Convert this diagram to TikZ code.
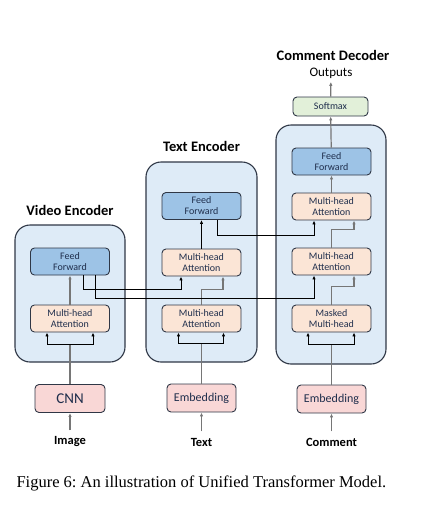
\documentclass[tikz,border=0pt]{standalone}
\usepackage{fontspec}
\setmainfont{Carlito}
\newfontfamily\capfont{Liberation Serif}
\usepackage{xcolor}
\usetikzlibrary{arrows.meta}

\definecolor{boxfill}{HTML}{DEEBF7}
\definecolor{edgecol}{HTML}{2F3746}
\definecolor{fffill}{HTML}{9DC3E6}
\definecolor{attfill}{HTML}{FBE5D6}
\definecolor{embfill}{HTML}{F9D7D6}
\definecolor{smfill}{HTML}{E2F0D9}
\definecolor{inktext}{HTML}{1F2E4C}
\definecolor{flowgray}{HTML}{767676}

\tikzset{
  encbox/.style={draw=edgecol, line width=1.1pt, fill=boxfill, rounded corners=15pt},
  layer/.style={draw=edgecol, line width=0.9pt, rounded corners=4pt, text=inktext,
    minimum width=79pt, minimum height=27pt, align=center, inner sep=1pt,
    font=\fontsize{10}{11}\selectfont},
  ffbox/.style={layer, fill=fffill},
  attbox/.style={layer, fill=attfill},
  embbox/.style={layer, fill=embfill, minimum width=69pt, minimum height=28pt,
    font=\fontsize{12}{14}\selectfont},
  title/.style={font=\fontsize{14.5}{16}\selectfont\bfseries},
  inlabel/.style={font=\fontsize{12.5}{14}\selectfont\bfseries},
  flow/.style={draw=flowgray, line width=1.2pt},
  link/.style={draw=black, line width=0.8pt},
}

\begin{document}
\frenchspacing
\begin{tikzpicture}[x=1pt, y=-1pt, >={Latex[length=4pt,width=3.4pt]}]
  \useasboundingbox (0,0) rectangle (430,507);

  % containers
  \node[encbox, minimum width=110pt, minimum height=137pt] (vbox) at (70,293.5) {};
  \node[encbox, minimum width=111pt, minimum height=200pt] (tbox) at (201.5,262) {};
  \node[encbox, minimum width=110pt, minimum height=239pt] (dbox) at (331,244.5) {};

  \node[title] (vtitle) at (70,210) {Video Encoder};
  \node[title] (ttitle) at (201.5,146) {Text Encoder};
  \node[title] (dtitle) at (333,55) {Comment Decoder};

  % video encoder
  \node[ffbox] (vff) at (70,261.5) {Feed\\Forward};
  \node[attbox] (vmha) at (70,318.5) {Multi-head\\Attention};
  \node[embbox, minimum width=70pt, font=\fontsize{15}{17}\selectfont] (cnn) at (70,398.5) {CNN};
  \node[inlabel] (image) at (70,442) {Image};

  % text encoder
  \node[ffbox] (tff) at (201.5,206) {Feed\\Forward};
  \node[attbox] (tmha2) at (201.5,262.5) {Multi-head\\Attention};
  \node[attbox] (tmha1) at (201.5,318.5) {Multi-head\\Attention};
  \node[embbox] (temb) at (201.5,398) {Embedding};
  \node[inlabel] (text) at (201.5,442) {Text};

  % comment decoder
  \node[layer, fill=smfill, minimum width=75pt, minimum height=19pt] (smax) at (330.5,106.5) {Softmax};
  \node[font=\fontsize{13}{15}\selectfont] (outp) at (331,73) {Outputs};
  \node[ffbox] (dff) at (331.5,161.5) {Feed\\Forward};
  \node[attbox] (dmha3) at (331.5,206.5) {Multi-head\\Attention};
  \node[attbox] (dmha2) at (331.5,261.5) {Multi-head\\Attention};
  \node[attbox] (dmask) at (331.5,318.5) {Masked\\Multi-head};
  \node[embbox] (demb) at (331.5,399) {Embedding};
  \node[inlabel] (comment) at (331.5,442) {Comment};

  \coordinate (vsplit) at (70,344);
  \coordinate (tsplit) at (201.5,343);
  \coordinate (dsplit) at (331.5,344);

  % video flow
  \draw[flow,->, shorten <=3pt] (image) -- (cnn);
  \draw[flow] (cnn) -- (vsplit);
  \draw[link,->] (vsplit) -| ([xshift=-23pt]vmha.south);
  \draw[link,->] (vsplit) -| ([xshift=23pt]vmha.south);
  \draw[flow,->] (vmha) -- (vff);

  % text flow
  \draw[flow,->, shorten <=3pt] (text) -- (temb);
  \draw[flow] (temb) -- (tsplit);
  \draw[link,->] (tsplit) -| ([xshift=-23pt]tmha1.south);
  \draw[link,->] (tsplit) -| ([xshift=22pt]tmha1.south);
  \draw[flow,->] (tmha1.north) -- ++(0,-15) -| ([xshift=21.5pt]tmha2.south);
  \draw[link,->] (tmha2) -- (tff);

  % decoder flow
  \draw[flow,->, shorten <=3pt] (comment) -- (demb);
  \draw[flow] (demb) -- (dsplit);
  \draw[link,->] (dsplit) -| ([xshift=-23.5pt]dmask.south);
  \draw[link,->] (dsplit) -| ([xshift=22.5pt]dmask.south);
  \draw[flow,->] (dmask.north) -- ++(0,-18) -| ([xshift=22.5pt]dmha2.south);
  \draw[flow,->] (dmha2.north) -- ++(0,-18) -| ([xshift=22.5pt]dmha3.south);
  \draw[flow,->] (dmha3) -- (dff);
  \draw[flow,->] (dff) -- (smax);
  \draw[flow,->] (smax) -- (outp);

  % cross links
  \draw[link,->] ([xshift=13pt]vff.south) -- ++(0,14) -| ([xshift=-20.5pt]tmha2.south);
  \draw[link,->] ([xshift=25pt]vff.south) -- ++(0,23) -| ([xshift=-17.5pt]dmha2.south);
  \draw[link,->] ([xshift=15.5pt]tff.south) -- ++(0,15) -| ([xshift=-17.5pt]dmha3.south);

  \node[font=\capfont\fontsize{16.5}{18}\selectfont, anchor=west] (caption) at (13,483)
    {Figure 6: An illustration of Unified Transformer Model.};
\end{tikzpicture}
\end{document}
